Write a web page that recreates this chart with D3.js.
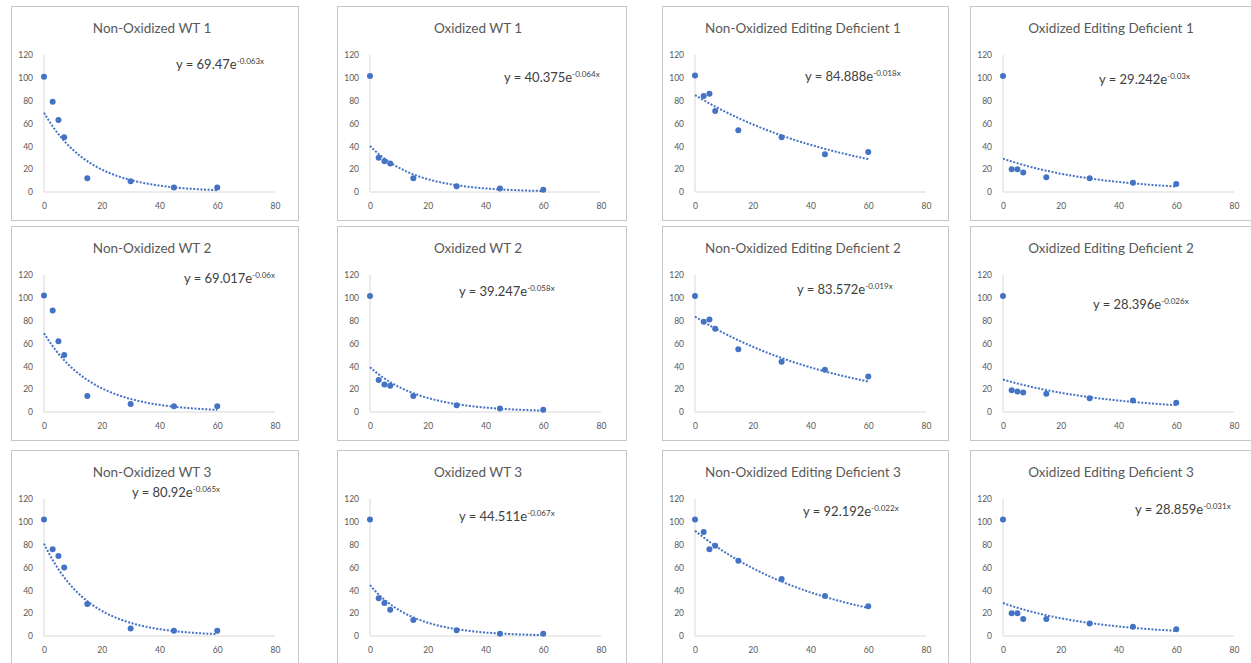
<!DOCTYPE html>
<html lang="en">
<head>
<meta charset="UTF-8">
<title>Decay fits</title>
<style>
  body { margin: 0; background: #fff; }
  text { font-family: Lato, "Open Sans", sans-serif; }
</style>
</head>
<body>
<svg width="1251" height="663"></svg>
<script src="https://d3js.org/d3.v7.min.js"></script>
<script>
// data
var times = [0, 3, 5, 7, 15, 30, 45, 60];
var titles = [
  "Non-Oxidized WT 1", "Oxidized WT 1", "Non-Oxidized Editing Deficient 1", "Oxidized Editing Deficient 1",
  "Non-Oxidized WT 2", "Oxidized WT 2", "Non-Oxidized Editing Deficient 2", "Oxidized Editing Deficient 2",
  "Non-Oxidized WT 3", "Oxidized WT 3", "Non-Oxidized Editing Deficient 3", "Oxidized Editing Deficient 3"
];
var values = [
  [101, 79, 63, 48, 12, 9.5, 4, 4],
  [101.5, 30, 27, 25, 12, 5, 3, 2],
  [102, 84, 86, 71, 54, 48, 33, 35],
  [101.5, 20, 20, 17, 13, 12, 8, 7],
  [102, 89, 62, 50, 14, 7, 5, 5],
  [101.5, 28, 24, 23, 14, 6, 3, 2],
  [101.5, 79, 81, 73, 55, 44, 37, 31],
  [101.5, 19, 18, 17, 16, 12, 10, 8],
  [102, 76, 70, 60, 28, 6.5, 4.5, 4.5],
  [102, 33, 29, 23, 14, 5, 2, 2],
  [102, 91, 76, 79, 66, 50, 35, 26],
  [102, 20, 20, 15, 15, 11, 8, 6]
];
var fitA = [69.47, 40.375, 84.888, 29.242, 69.017, 39.247, 83.572, 28.396, 80.92, 44.511, 92.192, 28.859];
var fitB = [-0.063, -0.064, -0.018, -0.03, -0.06, -0.058, -0.019, -0.026, -0.065, -0.067, -0.022, -0.031];
var xTicks = [0, 20, 40, 60, 80];
var yTicks = [0, 20, 40, 60, 80, 100, 120];

// layout
var colLeft = [11, 337, 662, 970];
var colWidth = [287, 289, 286, 282];
var rowTop = [6, 226, 450];
var panelH = 214;
var plotLeft = 33, plotW = 231, plotTop = 49, plotH = 137;
// equation anchor (relative to panel corner)
var eqPos = [[165, 63], [167, 76], [143, 75], [129, 78],
             [173, 57], [122, 70], [135, 68], [123, 83],
             [121, 47], [122, 71], [141, 66], [165, 64]];

var blue = "#4472c4";
var svg = d3.select("svg");

titles.forEach(function(t, i) {
  var r = Math.floor(i / 4), c = i % 4;
  var g = svg.append("g")
    .attr("transform", "translate(" + colLeft[c] + "," + rowTop[r] + ")");

  g.append("rect")
    .attr("x", 0.5).attr("y", 0.5)
    .attr("width", colWidth[c]).attr("height", panelH)
    .attr("fill", "#fff")
    .attr("stroke", "#c6c6c6");

  g.append("text")
    .attr("x", 141).attr("y", 27)
    .attr("text-anchor", "middle")
    .attr("font-size", 13.5)
    .attr("fill", "#595959")
    .text(t);

  var x = d3.scaleLinear().domain([0, 80]).range([plotLeft, plotLeft + plotW]);
  var y = d3.scaleLinear().domain([0, 120]).range([plotTop + plotH, plotTop]);

  // axes lines
  g.append("line")
    .attr("x1", x(0)).attr("x2", x(80))
    .attr("y1", y(0)).attr("y2", y(0))
    .attr("stroke", "#d9d9d9");
  g.append("line")
    .attr("x1", x(0)).attr("x2", x(0))
    .attr("y1", y(0)).attr("y2", y(120))
    .attr("stroke", "#d9d9d9");

  var xAxis = g.append("g")
    .attr("transform", "translate(0," + y(0) + ")")
    .call(d3.axisBottom(x).tickValues(xTicks).tickSize(0).tickPadding(11));
  var yAxis = g.append("g")
    .attr("transform", "translate(" + x(0) + ",0)")
    .call(d3.axisLeft(y).tickValues(yTicks).tickSize(0).tickPadding(11));
  [xAxis, yAxis].forEach(function(a) {
    a.select(".domain").remove();
    a.selectAll("text")
      .attr("fill", "#595959")
      .attr("font-size", 8.5)
      .style("font-family", "Lato, sans-serif");
  });

  // trendline
  var trend = d3.range(0, 60.5, 0.5).map(function(tx) {
    return [tx, fitA[i] * Math.exp(fitB[i] * tx)];
  });
  g.append("path")
    .datum(trend)
    .attr("fill", "none")
    .attr("stroke", blue)
    .attr("stroke-width", 2)
    .attr("stroke-dasharray", "2,1.6")
    .attr("d", d3.line().x(function(d) { return x(d[0]); }).y(function(d) { return y(d[1]); }));

  // points
  g.selectAll("circle")
    .data(values[i])
    .enter()
    .append("circle")
    .attr("cx", function(d, j) { return x(times[j]); })
    .attr("cy", function(d) { return y(d); })
    .attr("r", 3)
    .attr("fill", blue);

  // equation
  var eq = g.append("text")
    .attr("x", eqPos[i][0]).attr("y", eqPos[i][1])
    .attr("font-size", 13)
    .attr("fill", "#404040");
  eq.append("tspan").text("y = " + fitA[i] + "e");
  eq.append("tspan")
    .attr("dy", -5)
    .attr("font-size", 8)
    .text(fitB[i] + "x");
});
</script>
</body>
</html>
